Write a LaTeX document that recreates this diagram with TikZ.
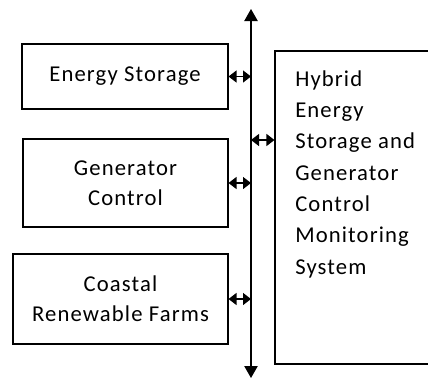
\documentclass[tikz,border=0pt]{standalone}
\usepackage{fontspec}
\setmainfont{Carlito}[LetterSpace=5]
\usetikzlibrary{arrows.meta}
\begin{document}
\begin{tikzpicture}[x=0.75pt,y=-0.75pt,
  box/.style={draw=black,line width=0.8pt,inner sep=0pt,align=center,font=\fontsize{17}{22.5}\selectfont},
  bus/.style={line width=0.9pt,{Triangle[length=9pt,width=10pt]}-{Triangle[length=9pt,width=10pt]}},
  conn/.style={line width=0.9pt,{Triangle[length=6pt,width=9pt]}-{Triangle[length=6pt,width=9pt]}}]
\useasboundingbox (0,0) rectangle (428,380);
\node[box,minimum width=154.5pt,minimum height=48.75pt] (b1) at (125,76.5) {Energy Storage};
\node[box,minimum width=153.75pt,minimum height=66pt] (b2) at (125.5,183) {Generator\\Control};
\node[box,minimum width=161.25pt,minimum height=67.5pt] (b3) at (120.5,299) {Coastal\\Renewable Farms};
\node[box,minimum width=115.5pt,minimum height=234.75pt] (rb) at (352,207.5) {};
\node[anchor=north west,inner sep=0pt,align=left,font=\fontsize{17}{23.5}\selectfont] (rt) at (295,70)
  {Hybrid\\Energy\\Storage and\\Generator\\Control\\Monitoring\\System};
\coordinate (top) at (251,9);
\coordinate (bot) at (251,378);
\draw[bus] (bot) -- (top);
\draw[conn] (b1.east) -- (b1.east -| top);
\draw[conn] (b2.east) -- (b2.east -| top);
\draw[conn] (b3.east) -- (b3.east -| top);
\coordinate (j4) at (251,140);
\draw[conn] (j4) -- (j4 -| rb.west);
\end{tikzpicture}
\end{document}
